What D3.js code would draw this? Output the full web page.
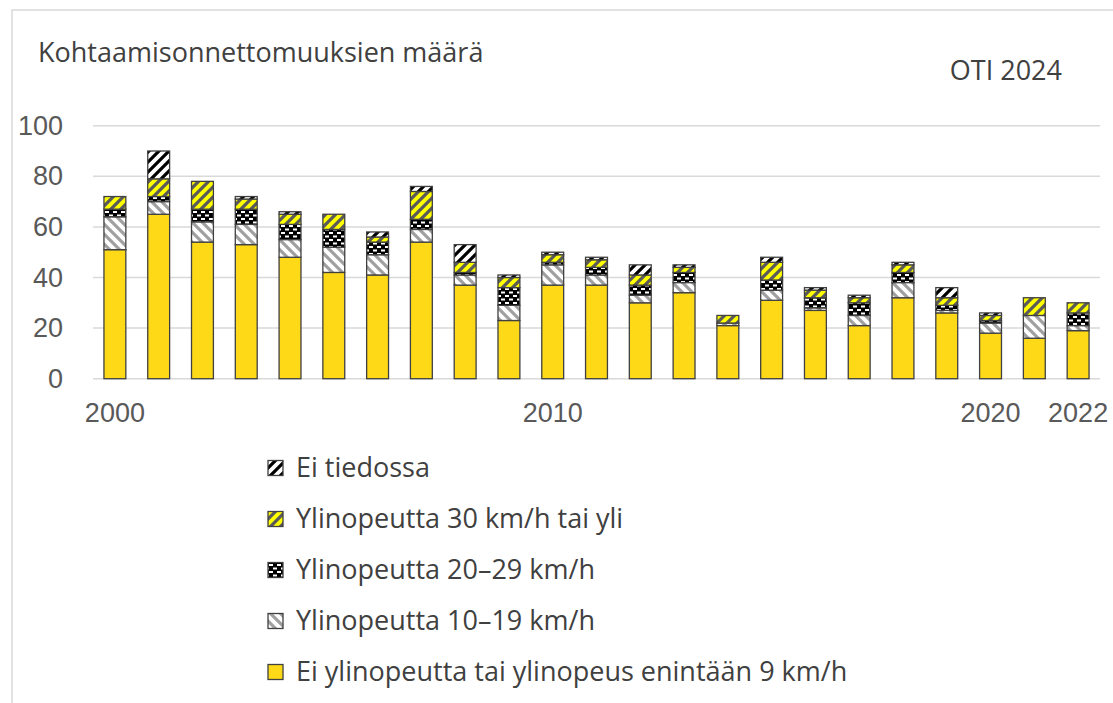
<!DOCTYPE html>
<html>
<head>
<meta charset="utf-8">
<script src="https://cdn.jsdelivr.net/npm/d3@7"></script>
<style>
  body { margin: 0; background: #fff; }
  svg { display: block; font-family: "Open Sans", "Noto Sans", sans-serif; }
</style>
</head>
<body>
<div id="chart"></div>
<script>
// vuodet
const years = [2000, 2001, 2002, 2003, 2004, 2005, 2006, 2007, 2008, 2009, 2010, 2011,
  2012, 2013, 2014, 2015, 2016, 2017, 2018, 2019, 2020, 2021, 2022];

// sarjat alhaalta ylös
const noSpeeding = [51, 65, 54, 53, 48, 42, 41, 54, 37, 23, 37, 37, 30, 34, 21, 31, 27, 21, 32, 26, 18, 16, 19];
const over10to19 = [13, 5, 8, 8, 7, 10, 8, 5, 4, 6, 8, 4, 3, 4, 1, 4, 1, 4, 6, 1, 4, 9, 2];
const over20to29 = [3, 2, 5, 6, 6, 7, 5, 4, 1, 7, 1, 3, 4, 4, 0, 4, 4, 5, 4, 2, 1, 0, 5];
const over30 = [5, 7, 11, 4, 4, 6, 2, 11, 4, 4, 3, 3, 4, 2, 3, 7, 3, 2, 3, 3, 2, 7, 4];
const unknown = [0, 11, 0, 1, 1, 0, 2, 2, 7, 1, 1, 1, 4, 1, 0, 2, 1, 1, 1, 4, 1, 0, 0];

const seriesKeys = ["base", "s10", "s20", "s30", "unk"];
const seriesNames = {
  base: "Ei ylinopeutta tai ylinopeus enintään 9 km/h",
  s10: "Ylinopeutta 10–19 km/h",
  s20: "Ylinopeutta 20–29 km/h",
  s30: "Ylinopeutta 30 km/h tai yli",
  unk: "Ei tiedossa"
};
const legendOrder = ["unk", "s30", "s20", "s10", "base"];

const yTicks = [0, 20, 40, 60, 80, 100];
const xLabels = [2000, 2010, 2020, 2022];

const width = 1113;
const height = 703;
const fontSize = 27;

const rows = years.map((y, i) => ({
  year: y,
  base: noSpeeding[i],
  s10: over10to19[i],
  s20: over20to29[i],
  s30: over30[i],
  unk: unknown[i]
}));

const svg = d3.select("#chart").append("svg")
  .attr("width", width)
  .attr("height", height);

// kuviot
const defs = svg.append("defs");

function stripes(id, bg, color, dir) {
  const s = 10;
  const p = defs.append("pattern")
    .attr("id", id)
    .attr("patternUnits", "userSpaceOnUse")
    .attr("width", s)
    .attr("height", s);
  p.append("rect").attr("width", s).attr("height", s).attr("fill", bg);
  const d = dir === "up"
    ? `M-3,3 L3,-3 M0,${s} L${s},0 M${s - 3},${s + 3} L${s + 3},${s - 3}`
    : `M-3,${s - 3} L3,${s + 3} M0,0 L${s},${s} M${s - 3},-3 L${s + 3},3`;
  p.append("path")
    .attr("d", d)
    .attr("stroke", color)
    .attr("stroke-width", 3.2);
}

stripes("pat-s10", "#ffffff", "#a0a0a0", "down");
stripes("pat-s30", "#ffff00", "#5a5a5a", "up");
stripes("pat-unk", "#ffffff", "#000000", "up");

const dots = defs.append("pattern")
  .attr("id", "pat-s20")
  .attr("patternUnits", "userSpaceOnUse")
  .attr("width", 8)
  .attr("height", 7);
dots.append("rect").attr("width", 8).attr("height", 7).attr("fill", "#000");
dots.selectAll(".d")
  .data([[1, 1], [5, 4.5], [-3, 4.5]])
  .join("rect")
  .attr("x", d => d[0])
  .attr("y", d => d[1])
  .attr("width", 4)
  .attr("height", 2)
  .attr("fill", "#fff");

const fills = {
  base: "#fdd918",
  s10: "url(#pat-s10)",
  s20: "url(#pat-s20)",
  s30: "url(#pat-s30)",
  unk: "url(#pat-unk)"
};

// kehys
svg.append("rect")
  .attr("x", 12)
  .attr("y", 10)
  .attr("width", width)
  .attr("height", height)
  .attr("fill", "none")
  .attr("stroke", "#d9d9d9")
  .attr("stroke-width", 1.5);

const x = d3.scaleBand()
  .domain(years)
  .range([93, 1100])
  .paddingInner(0.5)
  .paddingOuter(0.25);

const y = d3.scaleLinear()
  .domain([0, 100])
  .range([378.7, 125.7]);

// ruudukko
svg.append("g")
  .selectAll("line")
  .data(yTicks)
  .join("line")
  .attr("x1", 93)
  .attr("x2", 1100)
  .attr("y1", d => y(d))
  .attr("y2", d => y(d))
  .attr("stroke", "#d9d9d9")
  .attr("stroke-width", 1.5);

// y-akseli
const yAxis = svg.append("g")
  .attr("transform", "translate(63,0)")
  .call(d3.axisLeft(y).tickValues(yTicks).tickSize(0).tickPadding(0));
yAxis.select(".domain").remove();
yAxis.selectAll("text")
  .attr("font-size", fontSize)
  .attr("font-family", null)
  .attr("fill", "#595959");

// x-akseli
const xAxis = svg.append("g")
  .attr("transform", `translate(0,${y(0)})`)
  .call(d3.axisBottom(x).tickValues(xLabels).tickSize(0).tickPadding(24));
xAxis.select(".domain").remove();
xAxis.selectAll("text")
  .attr("font-size", fontSize)
  .attr("font-family", null)
  .attr("fill", "#595959");

// pinotut pylväät
const stack = d3.stack().keys(seriesKeys)(rows);

svg.append("g")
  .selectAll("g")
  .data(stack)
  .join("g")
  .attr("fill", d => fills[d.key])
  .selectAll("rect")
  .data(d => d.filter(v => v[1] - v[0] > 0))
  .join("rect")
  .attr("x", d => x(d.data.year))
  .attr("width", x.bandwidth())
  .attr("y", d => y(d[1]))
  .attr("height", d => y(d[0]) - y(d[1]))
  .attr("stroke", "#404040")
  .attr("stroke-width", 1.3);

// otsikot
svg.append("text")
  .attr("x", 38)
  .attr("y", 62)
  .attr("font-size", fontSize)
  .attr("fill", "#404040")
  .text("Kohtaamisonnettomuuksien määrä");

svg.append("text")
  .attr("x", 1062)
  .attr("y", 80)
  .attr("text-anchor", "end")
  .attr("font-size", fontSize)
  .attr("fill", "#404040")
  .text("OTI 2024");

// selite
const legend = svg.append("g")
  .selectAll("g")
  .data(legendOrder)
  .join("g")
  .attr("transform", (d, i) => `translate(268,${468 + i * 51})`);

legend.append("rect")
  .attr("x", 0)
  .attr("y", -7.5)
  .attr("width", 15)
  .attr("height", 15)
  .attr("fill", d => fills[d])
  .attr("stroke", "#404040")
  .attr("stroke-width", 1.3);

legend.append("text")
  .attr("x", 28)
  .attr("dy", "0.35em")
  .attr("font-size", fontSize)
  .attr("fill", "#404040")
  .text(d => seriesNames[d]);
</script>
</body>
</html>
